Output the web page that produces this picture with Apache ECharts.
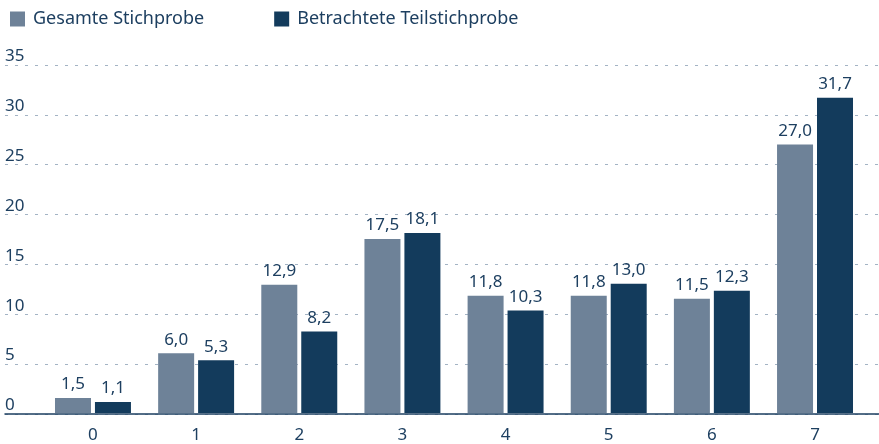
<!DOCTYPE html>
<html>
<head>
<meta charset="utf-8">
<script src="https://cdn.jsdelivr.net/npm/echarts@6/dist/echarts.min.js"></script>
<style>
  html, body { margin: 0; padding: 0; background: #fff; }
  #chart { width: 879px; height: 444px; }
</style>
</head>
<body>
<div id="chart"></div>
<script>
// daten
const categories = ["0", "1", "2", "3", "4", "5", "6", "7"];
const gesamt = [1.5, 6.0, 12.9, 17.5, 11.8, 11.8, 11.5, 27.0];
const teil = [1.1, 5.3, 8.2, 18.1, 10.3, 13.0, 12.3, 31.7];
const seriesNames = ["Gesamte Stichprobe", "Betrachtete Teilstichprobe"];

const textColor = "#1d3f60";
const font = "Noto Sans";
const fmt = (v) => v.toFixed(1).replace(".", ",");

const chart = echarts.init(document.getElementById("chart"));

const label = {
  show: true,
  position: "top",
  distance: 5,
  color: textColor,
  fontFamily: font,
  fontSize: 17,
  formatter: (p) => fmt(p.value),
};

chart.setOption({
  animation: false,
  textStyle: { fontFamily: font },
  legend: {
    left: 5,
    top: 5,
    itemWidth: 15,
    itemHeight: 15,
    itemGap: 70,
    icon: "rect",
    textStyle: { color: textColor, fontSize: 18, fontFamily: font, padding: [0, 0, 0, 3] },
    data: seriesNames,
  },
  grid: [
    { left: 41.4, right: 12.4, top: 65, bottom: 30 },
    { left: 5, right: 0, top: 65, bottom: 30 },
  ],
  xAxis: [
    {
      type: "category",
      gridIndex: 0,
      data: categories,
      axisLine: { show: false },
      axisTick: { show: false },
      axisLabel: { color: textColor, fontSize: 17, fontFamily: font, margin: 14 },
    },
    {
      type: "value",
      gridIndex: 1,
      min: 0,
      max: 1,
      axisLine: { show: true, onZero: false, lineStyle: { color: "#1d3f60", width: 1.5 } },
      axisTick: { show: false },
      axisLabel: { show: false },
      splitLine: { show: false },
    },
  ],
  yAxis: [
    { type: "value", gridIndex: 0, min: 0, max: 35, interval: 5, show: false },
    {
      type: "value",
      gridIndex: 1,
      min: 0,
      max: 35,
      interval: 5,
      axisLine: { show: false },
      axisTick: { show: false },
      axisLabel: {
        inside: true,
        margin: 0,
        align: "left",
        verticalAlign: "bottom",
        color: textColor,
        fontSize: 17,
        fontFamily: font,
      },
      splitLine: { lineStyle: { color: "#a3b3c4", type: [3, 7], width: 1 } },
    },
  ],
  series: [
    {
      name: seriesNames[0],
      type: "bar",
      xAxisIndex: 0,
      yAxisIndex: 0,
      data: gesamt,
      barWidth: 36,
      barGap: "11%",
      itemStyle: { color: "#6e8298" },
      label: label,
      z: 3,
    },
    {
      name: seriesNames[1],
      type: "bar",
      xAxisIndex: 0,
      yAxisIndex: 0,
      data: teil,
      barWidth: 36,
      barGap: "11%",
      itemStyle: { color: "#133b5c" },
      label: label,
      z: 3,
    },
  ],
});
</script>
</body>
</html>
